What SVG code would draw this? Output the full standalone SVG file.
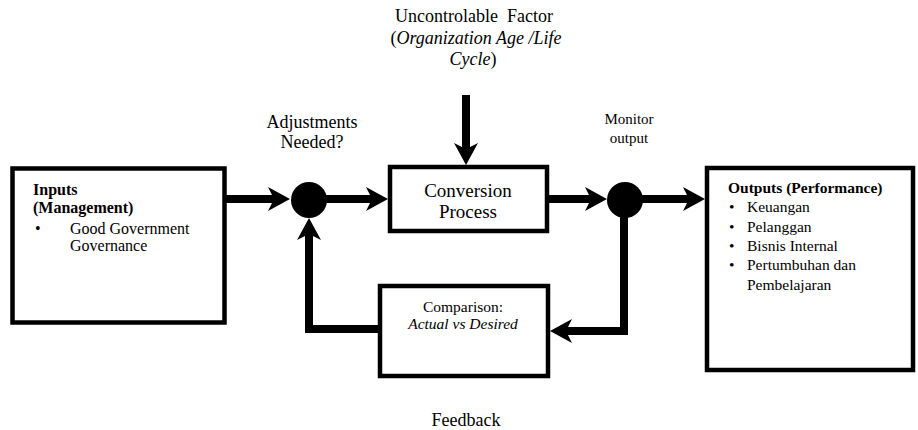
<svg xmlns="http://www.w3.org/2000/svg" width="918" height="430" viewBox="0 0 918 430" font-family="'Liberation Serif', 'DejaVu Serif', serif">
  <style>
    text { font-family: "Liberation Serif", "DejaVu Serif", serif; fill: #000; }
    .box { fill: #fff; stroke: #000; stroke-width: 4.5; }
    .flow { fill: none; stroke: #000; stroke-width: 8; stroke-linejoin: miter; marker-end: url(#head); }
    .dot { fill: #000; }
    .c { text-anchor: middle; }
    .b { font-weight: bold; }
    .i { font-style: italic; }
  </style>
  <defs>
    <!-- swept-back arrowhead, the stroke ends at its notch -->
    <marker id="head" markerUnits="userSpaceOnUse" markerWidth="24" markerHeight="26" viewBox="0 -13 24 26" refX="9" refY="0" orient="auto">
      <path d="M22,0 L0,-12 L6,0 L0,12 Z" fill="#000"/>
    </marker>
  </defs>

  <!-- labels outside the nodes -->
  <g id="uncontrollable-label">
    <text class="c" x="474" y="22" font-size="18" xml:space="preserve">Uncontrolable  Factor</text>
    <text class="c" x="476" y="44" font-size="18">(<tspan class="i">Organization Age /Life</tspan></text>
    <text class="c" x="473" y="65" font-size="18"><tspan class="i">Cycle</tspan>)</text>
  </g>
  <g id="adjustments-label">
    <text class="c" x="312" y="128" font-size="18">Adjustments</text>
    <text class="c" x="312" y="148" font-size="18">Needed?</text>
  </g>
  <g id="monitor-label">
    <text class="c" x="629" y="124" font-size="15">Monitor</text>
    <text class="c" x="629" y="143" font-size="15">output</text>
  </g>
  <g id="feedback-label">
    <text class="c" x="466" y="426" font-size="18">Feedback</text>
  </g>

  <!-- connectors -->
  <g id="connectors">
    <line class="flow" x1="225" y1="199" x2="277" y2="199"/>
    <line class="flow" x1="320" y1="199" x2="375" y2="199"/>
    <line class="flow" x1="547" y1="199" x2="594" y2="199"/>
    <line class="flow" x1="635" y1="199" x2="692" y2="199"/>
    <line class="flow" x1="466" y1="95" x2="466" y2="152"/>
    <polyline class="flow" points="624,205 624,331 563,331"/>
    <polyline class="flow" points="382,329 309,329 309,231"/>
  </g>

  <!-- nodes -->
  <g id="inputs">
    <rect class="box" x="12.5" y="168.5" width="212" height="154"/>
    <text class="b" x="33" y="195" font-size="16">Inputs</text>
    <text class="b" x="33" y="213" font-size="16">(Management)</text>
    <text x="35" y="234" font-size="16">•</text>
    <text x="70" y="234" font-size="16">Good Government</text>
    <text x="70" y="251" font-size="16">Governance</text>
  </g>

  <g id="adjust-junction">
    <circle class="dot" cx="309" cy="200" r="18"/>
  </g>

  <g id="conversion">
    <rect class="box" x="390" y="167" width="157" height="64"/>
    <text class="c" x="468" y="197" font-size="19">Conversion</text>
    <text class="c" x="468" y="218" font-size="19">Process</text>
  </g>

  <g id="monitor-junction">
    <circle class="dot" cx="625" cy="200" r="18"/>
  </g>

  <g id="outputs">
    <rect class="box" x="707" y="168" width="206" height="202"/>
    <text class="b" x="728" y="193" font-size="15.5">Outputs (Performance)</text>
    <text x="729" y="212" font-size="15.5">•</text>
    <text x="747" y="212" font-size="15.5">Keuangan</text>
    <text x="729" y="232" font-size="15.5">•</text>
    <text x="747" y="232" font-size="15.5">Pelanggan</text>
    <text x="729" y="251" font-size="15.5">•</text>
    <text x="747" y="251" font-size="15.5">Bisnis Internal</text>
    <text x="729" y="270" font-size="15.5">•</text>
    <text x="747" y="270" font-size="15.5">Pertumbuhan dan</text>
    <text x="747" y="290" font-size="15.5">Pembelajaran</text>
  </g>

  <g id="comparison">
    <rect class="box" x="380" y="286" width="168" height="90"/>
    <text class="c" x="463" y="312" font-size="15.5">Comparison:</text>
    <text class="c i" x="463" y="329" font-size="15.5">Actual vs Desired</text>
  </g>
</svg>
